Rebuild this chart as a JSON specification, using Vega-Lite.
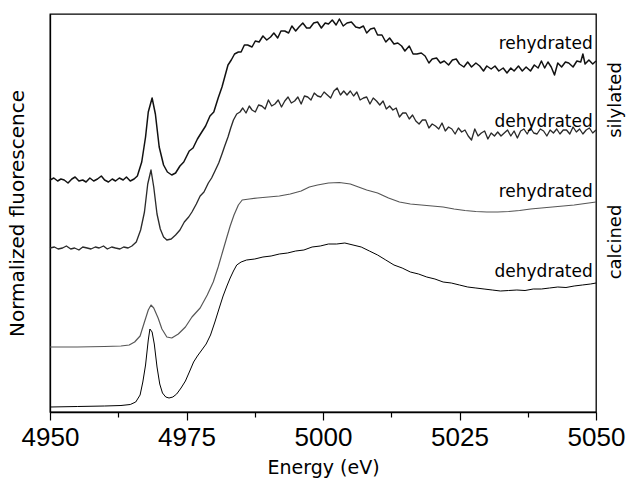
{
  "$schema": "https://vega.github.io/schema/vega-lite/v6.json",
  "width": 546,
  "height": 398,
  "autosize": {"type": "none"},
  "padding": {"left": 50, "top": 14, "right": 35, "bottom": 71},
  "background": "white",
  "config": {
    "view": {"stroke": "black", "strokeWidth": 1.3},
    "axis": {"domainColor": "black", "tickColor": "black", "labelColor": "black", "titleColor": "black", "grid": false}
  },
  "datasets": {
    "curves": [
      {"series": "A", "e": 4950, "v": 232}, {"series": "A", "e": 4950.7, "v": 234}, {"series": "A", "e": 4951.4, "v": 231}, {"series": "A", "e": 4952, "v": 233}, {"series": "A", "e": 4952.6, "v": 232}, {"series": "A", "e": 4953.3, "v": 229}, {"series": "A", "e": 4954, "v": 233}, {"series": "A", "e": 4954.6, "v": 235}, {"series": "A", "e": 4955.3, "v": 231}, {"series": "A", "e": 4956, "v": 232}, {"series": "A", "e": 4956.6, "v": 230}, {"series": "A", "e": 4957.3, "v": 234}, {"series": "A", "e": 4958, "v": 231}, {"series": "A", "e": 4958.7, "v": 233}, {"series": "A", "e": 4959.4, "v": 236}, {"series": "A", "e": 4960, "v": 232}, {"series": "A", "e": 4960.7, "v": 230}, {"series": "A", "e": 4961.4, "v": 233}, {"series": "A", "e": 4962, "v": 231}, {"series": "A", "e": 4962.7, "v": 234}, {"series": "A", "e": 4963.4, "v": 232}, {"series": "A", "e": 4964, "v": 235}, {"series": "A", "e": 4964.7, "v": 231}, {"series": "A", "e": 4965.4, "v": 233}, {"series": "A", "e": 4966, "v": 236}, {"series": "A", "e": 4966.8, "v": 250}, {"series": "A", "e": 4967.5, "v": 275}, {"series": "A", "e": 4968, "v": 300}, {"series": "A", "e": 4968.7, "v": 314}, {"series": "A", "e": 4969.3, "v": 298}, {"series": "A", "e": 4970, "v": 265}, {"series": "A", "e": 4970.8, "v": 247}, {"series": "A", "e": 4971.5, "v": 240}, {"series": "A", "e": 4972.3, "v": 237}, {"series": "A", "e": 4973, "v": 239}, {"series": "A", "e": 4973.8, "v": 246}, {"series": "A", "e": 4974.5, "v": 250}, {"series": "A", "e": 4975.5, "v": 261}, {"series": "A", "e": 4976.2, "v": 264}, {"series": "A", "e": 4977, "v": 273}, {"series": "A", "e": 4977.8, "v": 280}, {"series": "A", "e": 4978.5, "v": 286}, {"series": "A", "e": 4979.3, "v": 296}, {"series": "A", "e": 4980, "v": 300}, {"series": "A", "e": 4980.8, "v": 314}, {"series": "A", "e": 4981.5, "v": 325}, {"series": "A", "e": 4982, "v": 335}, {"series": "A", "e": 4982.6, "v": 347}, {"series": "A", "e": 4983.2, "v": 352}, {"series": "A", "e": 4983.8, "v": 358}, {"series": "A", "e": 4984.5, "v": 360}, {"series": "A", "e": 4985, "v": 360}, {"series": "A", "e": 4985.6, "v": 367}, {"series": "A", "e": 4986.2, "v": 367}, {"series": "A", "e": 4987, "v": 365}, {"series": "A", "e": 4987.6, "v": 371}, {"series": "A", "e": 4988.3, "v": 370}, {"series": "A", "e": 4989, "v": 376}, {"series": "A", "e": 4989.7, "v": 372}, {"series": "A", "e": 4990.4, "v": 375}, {"series": "A", "e": 4991, "v": 379}, {"series": "A", "e": 4991.7, "v": 374}, {"series": "A", "e": 4992.3, "v": 381}, {"series": "A", "e": 4993, "v": 381}, {"series": "A", "e": 4993.7, "v": 379}, {"series": "A", "e": 4994.3, "v": 386}, {"series": "A", "e": 4995, "v": 381}, {"series": "A", "e": 4995.6, "v": 385}, {"series": "A", "e": 4996.3, "v": 389}, {"series": "A", "e": 4997, "v": 384}, {"series": "A", "e": 4997.6, "v": 384}, {"series": "A", "e": 4998.3, "v": 389}, {"series": "A", "e": 4999, "v": 390}, {"series": "A", "e": 4999.7, "v": 384}, {"series": "A", "e": 5000.4, "v": 389}, {"series": "A", "e": 5001, "v": 388}, {"series": "A", "e": 5001.7, "v": 392}, {"series": "A", "e": 5002.4, "v": 387}, {"series": "A", "e": 5003, "v": 393}, {"series": "A", "e": 5003.7, "v": 386}, {"series": "A", "e": 5004.4, "v": 389}, {"series": "A", "e": 5005.2, "v": 390}, {"series": "A", "e": 5006, "v": 385}, {"series": "A", "e": 5006.7, "v": 384}, {"series": "A", "e": 5007.4, "v": 386}, {"series": "A", "e": 5008, "v": 379}, {"series": "A", "e": 5008.7, "v": 383}, {"series": "A", "e": 5009.4, "v": 384}, {"series": "A", "e": 5010, "v": 377}, {"series": "A", "e": 5010.8, "v": 377}, {"series": "A", "e": 5011.5, "v": 370}, {"series": "A", "e": 5012.2, "v": 374}, {"series": "A", "e": 5013, "v": 368}, {"series": "A", "e": 5013.7, "v": 369}, {"series": "A", "e": 5014.4, "v": 366}, {"series": "A", "e": 5015, "v": 361}, {"series": "A", "e": 5015.8, "v": 366}, {"series": "A", "e": 5016.5, "v": 358}, {"series": "A", "e": 5017.2, "v": 358}, {"series": "A", "e": 5018, "v": 359}, {"series": "A", "e": 5018.7, "v": 356}, {"series": "A", "e": 5019.4, "v": 349}, {"series": "A", "e": 5020, "v": 353}, {"series": "A", "e": 5020.8, "v": 354}, {"series": "A", "e": 5021.5, "v": 349}, {"series": "A", "e": 5022.2, "v": 351}, {"series": "A", "e": 5023, "v": 347}, {"series": "A", "e": 5023.7, "v": 352}, {"series": "A", "e": 5024.4, "v": 353}, {"series": "A", "e": 5025, "v": 348}, {"series": "A", "e": 5025.8, "v": 345}, {"series": "A", "e": 5026.5, "v": 350}, {"series": "A", "e": 5027.2, "v": 345}, {"series": "A", "e": 5028, "v": 349}, {"series": "A", "e": 5028.7, "v": 346}, {"series": "A", "e": 5029.4, "v": 341}, {"series": "A", "e": 5030, "v": 346}, {"series": "A", "e": 5030.8, "v": 343}, {"series": "A", "e": 5031.5, "v": 346}, {"series": "A", "e": 5032.2, "v": 341}, {"series": "A", "e": 5033, "v": 344}, {"series": "A", "e": 5033.7, "v": 339}, {"series": "A", "e": 5034.4, "v": 344}, {"series": "A", "e": 5035, "v": 341}, {"series": "A", "e": 5035.8, "v": 346}, {"series": "A", "e": 5036.5, "v": 341}, {"series": "A", "e": 5037.2, "v": 345}, {"series": "A", "e": 5038, "v": 341}, {"series": "A", "e": 5038.7, "v": 347}, {"series": "A", "e": 5039.4, "v": 344}, {"series": "A", "e": 5040, "v": 351}, {"series": "A", "e": 5040.6, "v": 344}, {"series": "A", "e": 5041.2, "v": 350}, {"series": "A", "e": 5041.8, "v": 345}, {"series": "A", "e": 5042.4, "v": 337}, {"series": "A", "e": 5043, "v": 349}, {"series": "A", "e": 5043.7, "v": 345}, {"series": "A", "e": 5044.4, "v": 350}, {"series": "A", "e": 5045, "v": 349}, {"series": "A", "e": 5045.8, "v": 345}, {"series": "A", "e": 5046.5, "v": 351}, {"series": "A", "e": 5047.2, "v": 350}, {"series": "A", "e": 5047.6, "v": 358}, {"series": "A", "e": 5048, "v": 348}, {"series": "A", "e": 5048.7, "v": 352}, {"series": "A", "e": 5049.4, "v": 348}, {"series": "A", "e": 5050, "v": 351},

      {"series": "B", "e": 4950, "v": 164}, {"series": "B", "e": 4950.8, "v": 165}, {"series": "B", "e": 4951.5, "v": 163}, {"series": "B", "e": 4952.3, "v": 164}, {"series": "B", "e": 4953, "v": 166}, {"series": "B", "e": 4953.8, "v": 163}, {"series": "B", "e": 4954.5, "v": 164}, {"series": "B", "e": 4955.3, "v": 162}, {"series": "B", "e": 4956, "v": 165}, {"series": "B", "e": 4956.8, "v": 164}, {"series": "B", "e": 4957.5, "v": 163}, {"series": "B", "e": 4958.3, "v": 165}, {"series": "B", "e": 4959, "v": 164}, {"series": "B", "e": 4959.8, "v": 166}, {"series": "B", "e": 4960.5, "v": 163}, {"series": "B", "e": 4961.3, "v": 165}, {"series": "B", "e": 4962, "v": 164}, {"series": "B", "e": 4962.8, "v": 163}, {"series": "B", "e": 4963.5, "v": 165}, {"series": "B", "e": 4964.3, "v": 164}, {"series": "B", "e": 4965, "v": 166}, {"series": "B", "e": 4965.8, "v": 170}, {"series": "B", "e": 4966.6, "v": 182}, {"series": "B", "e": 4967.3, "v": 200}, {"series": "B", "e": 4967.9, "v": 228}, {"series": "B", "e": 4968.5, "v": 242}, {"series": "B", "e": 4969, "v": 225}, {"series": "B", "e": 4969.6, "v": 198}, {"series": "B", "e": 4970.2, "v": 183}, {"series": "B", "e": 4970.8, "v": 175}, {"series": "B", "e": 4971.4, "v": 172}, {"series": "B", "e": 4972.2, "v": 173}, {"series": "B", "e": 4973, "v": 177}, {"series": "B", "e": 4973.8, "v": 182}, {"series": "B", "e": 4974.6, "v": 190}, {"series": "B", "e": 4975.4, "v": 195}, {"series": "B", "e": 4976, "v": 200}, {"series": "B", "e": 4976.8, "v": 208}, {"series": "B", "e": 4977.5, "v": 216}, {"series": "B", "e": 4978.2, "v": 220}, {"series": "B", "e": 4979, "v": 229}, {"series": "B", "e": 4979.6, "v": 234}, {"series": "B", "e": 4980.3, "v": 242}, {"series": "B", "e": 4980.9, "v": 249}, {"series": "B", "e": 4981.5, "v": 258}, {"series": "B", "e": 4982, "v": 266}, {"series": "B", "e": 4982.6, "v": 275}, {"series": "B", "e": 4983.1, "v": 284}, {"series": "B", "e": 4983.6, "v": 292}, {"series": "B", "e": 4984.2, "v": 298}, {"series": "B", "e": 4984.8, "v": 300}, {"series": "B", "e": 4985.3, "v": 304}, {"series": "B", "e": 4985.9, "v": 299}, {"series": "B", "e": 4986.5, "v": 306}, {"series": "B", "e": 4987, "v": 302}, {"series": "B", "e": 4987.6, "v": 300}, {"series": "B", "e": 4988.2, "v": 307}, {"series": "B", "e": 4988.8, "v": 306}, {"series": "B", "e": 4989.4, "v": 303}, {"series": "B", "e": 4990, "v": 312}, {"series": "B", "e": 4990.6, "v": 306}, {"series": "B", "e": 4991.2, "v": 308}, {"series": "B", "e": 4991.8, "v": 312}, {"series": "B", "e": 4992.4, "v": 305}, {"series": "B", "e": 4993, "v": 311}, {"series": "B", "e": 4993.6, "v": 315}, {"series": "B", "e": 4994.2, "v": 309}, {"series": "B", "e": 4994.8, "v": 311}, {"series": "B", "e": 4995.4, "v": 315}, {"series": "B", "e": 4996, "v": 308}, {"series": "B", "e": 4996.6, "v": 316}, {"series": "B", "e": 4997.2, "v": 315}, {"series": "B", "e": 4997.8, "v": 312}, {"series": "B", "e": 4998.4, "v": 319}, {"series": "B", "e": 4999, "v": 316}, {"series": "B", "e": 4999.6, "v": 315}, {"series": "B", "e": 5000.2, "v": 320}, {"series": "B", "e": 5000.8, "v": 317}, {"series": "B", "e": 5001.4, "v": 314}, {"series": "B", "e": 5002, "v": 321}, {"series": "B", "e": 5002.6, "v": 324}, {"series": "B", "e": 5003.2, "v": 317}, {"series": "B", "e": 5003.8, "v": 321}, {"series": "B", "e": 5004.4, "v": 317}, {"series": "B", "e": 5005, "v": 321}, {"series": "B", "e": 5005.6, "v": 316}, {"series": "B", "e": 5006.2, "v": 320}, {"series": "B", "e": 5006.8, "v": 312}, {"series": "B", "e": 5007.4, "v": 314}, {"series": "B", "e": 5008, "v": 315}, {"series": "B", "e": 5008.6, "v": 308}, {"series": "B", "e": 5009.2, "v": 314}, {"series": "B", "e": 5009.8, "v": 311}, {"series": "B", "e": 5010.4, "v": 307}, {"series": "B", "e": 5011, "v": 311}, {"series": "B", "e": 5011.6, "v": 303}, {"series": "B", "e": 5012.2, "v": 306}, {"series": "B", "e": 5012.8, "v": 302}, {"series": "B", "e": 5013.4, "v": 304}, {"series": "B", "e": 5014, "v": 295}, {"series": "B", "e": 5014.6, "v": 299}, {"series": "B", "e": 5015.2, "v": 299}, {"series": "B", "e": 5015.8, "v": 293}, {"series": "B", "e": 5016.4, "v": 297}, {"series": "B", "e": 5017, "v": 291}, {"series": "B", "e": 5017.6, "v": 288}, {"series": "B", "e": 5018.2, "v": 292}, {"series": "B", "e": 5018.8, "v": 292}, {"series": "B", "e": 5019.4, "v": 284}, {"series": "B", "e": 5020, "v": 288}, {"series": "B", "e": 5020.6, "v": 286}, {"series": "B", "e": 5021.2, "v": 283}, {"series": "B", "e": 5021.8, "v": 289}, {"series": "B", "e": 5022.4, "v": 281}, {"series": "B", "e": 5023, "v": 285}, {"series": "B", "e": 5023.6, "v": 283}, {"series": "B", "e": 5024.2, "v": 278}, {"series": "B", "e": 5024.8, "v": 284}, {"series": "B", "e": 5025.4, "v": 280}, {"series": "B", "e": 5026, "v": 282}, {"series": "B", "e": 5026.6, "v": 276}, {"series": "B", "e": 5027.2, "v": 272}, {"series": "B", "e": 5027.8, "v": 283}, {"series": "B", "e": 5028.4, "v": 276}, {"series": "B", "e": 5029, "v": 279}, {"series": "B", "e": 5029.6, "v": 281}, {"series": "B", "e": 5030.2, "v": 273}, {"series": "B", "e": 5030.8, "v": 279}, {"series": "B", "e": 5031.4, "v": 276}, {"series": "B", "e": 5032, "v": 280}, {"series": "B", "e": 5032.6, "v": 276}, {"series": "B", "e": 5033.2, "v": 279}, {"series": "B", "e": 5033.8, "v": 282}, {"series": "B", "e": 5034.4, "v": 276}, {"series": "B", "e": 5035, "v": 281}, {"series": "B", "e": 5035.6, "v": 274}, {"series": "B", "e": 5036.2, "v": 281}, {"series": "B", "e": 5036.8, "v": 283}, {"series": "B", "e": 5037.4, "v": 278}, {"series": "B", "e": 5038, "v": 284}, {"series": "B", "e": 5038.6, "v": 279}, {"series": "B", "e": 5039.2, "v": 278}, {"series": "B", "e": 5039.8, "v": 283}, {"series": "B", "e": 5040.4, "v": 281}, {"series": "B", "e": 5041, "v": 276}, {"series": "B", "e": 5041.6, "v": 282}, {"series": "B", "e": 5042.2, "v": 279}, {"series": "B", "e": 5042.8, "v": 283}, {"series": "B", "e": 5043.4, "v": 278}, {"series": "B", "e": 5044, "v": 282}, {"series": "B", "e": 5044.6, "v": 282}, {"series": "B", "e": 5045.2, "v": 278}, {"series": "B", "e": 5045.8, "v": 285}, {"series": "B", "e": 5046.4, "v": 280}, {"series": "B", "e": 5047, "v": 283}, {"series": "B", "e": 5047.6, "v": 278}, {"series": "B", "e": 5048.2, "v": 282}, {"series": "B", "e": 5048.8, "v": 284}, {"series": "B", "e": 5049.4, "v": 279}, {"series": "B", "e": 5050, "v": 282},

      {"series": "C", "e": 4950, "v": 65}, {"series": "C", "e": 4955, "v": 65}, {"series": "C", "e": 4960, "v": 65.5}, {"series": "C", "e": 4963, "v": 66}, {"series": "C", "e": 4964.5, "v": 67}, {"series": "C", "e": 4965.5, "v": 70}, {"series": "C", "e": 4966.5, "v": 76}, {"series": "C", "e": 4967.3, "v": 90}, {"series": "C", "e": 4968, "v": 102}, {"series": "C", "e": 4968.5, "v": 107}, {"series": "C", "e": 4969, "v": 104}, {"series": "C", "e": 4969.8, "v": 94}, {"series": "C", "e": 4970.5, "v": 83}, {"series": "C", "e": 4971.4, "v": 75}, {"series": "C", "e": 4972.3, "v": 74}, {"series": "C", "e": 4973.5, "v": 78}, {"series": "C", "e": 4974.8, "v": 85}, {"series": "C", "e": 4976, "v": 95}, {"series": "C", "e": 4977.5, "v": 104}, {"series": "C", "e": 4978.8, "v": 117}, {"series": "C", "e": 4979.9, "v": 130}, {"series": "C", "e": 4980.8, "v": 145}, {"series": "C", "e": 4981.6, "v": 160}, {"series": "C", "e": 4982.4, "v": 175}, {"series": "C", "e": 4983, "v": 186}, {"series": "C", "e": 4983.7, "v": 197}, {"series": "C", "e": 4984.5, "v": 207}, {"series": "C", "e": 4985.2, "v": 212}, {"series": "C", "e": 4986.5, "v": 213}, {"series": "C", "e": 4988, "v": 214}, {"series": "C", "e": 4990, "v": 215}, {"series": "C", "e": 4992, "v": 216}, {"series": "C", "e": 4994, "v": 218}, {"series": "C", "e": 4996, "v": 221}, {"series": "C", "e": 4997.5, "v": 225}, {"series": "C", "e": 4999, "v": 227}, {"series": "C", "e": 5001, "v": 229}, {"series": "C", "e": 5003, "v": 229.5}, {"series": "C", "e": 5005, "v": 228}, {"series": "C", "e": 5006.5, "v": 225}, {"series": "C", "e": 5008, "v": 222}, {"series": "C", "e": 5010, "v": 219}, {"series": "C", "e": 5012, "v": 214}, {"series": "C", "e": 5014, "v": 210}, {"series": "C", "e": 5016, "v": 208}, {"series": "C", "e": 5018, "v": 207}, {"series": "C", "e": 5020, "v": 206}, {"series": "C", "e": 5022, "v": 205}, {"series": "C", "e": 5024, "v": 203}, {"series": "C", "e": 5026, "v": 201.5}, {"series": "C", "e": 5028, "v": 200.5}, {"series": "C", "e": 5030, "v": 200}, {"series": "C", "e": 5032, "v": 200}, {"series": "C", "e": 5034, "v": 200.5}, {"series": "C", "e": 5036, "v": 201.5}, {"series": "C", "e": 5038, "v": 203}, {"series": "C", "e": 5040, "v": 204}, {"series": "C", "e": 5042, "v": 205}, {"series": "C", "e": 5044, "v": 206}, {"series": "C", "e": 5046, "v": 207}, {"series": "C", "e": 5048, "v": 208.5}, {"series": "C", "e": 5050, "v": 210},

      {"series": "D", "e": 4950, "v": 5}, {"series": "D", "e": 4955, "v": 5.5}, {"series": "D", "e": 4960, "v": 6}, {"series": "D", "e": 4963, "v": 6.5}, {"series": "D", "e": 4964.7, "v": 7.5}, {"series": "D", "e": 4965.7, "v": 10}, {"series": "D", "e": 4966.5, "v": 17}, {"series": "D", "e": 4967, "v": 30}, {"series": "D", "e": 4967.5, "v": 47}, {"series": "D", "e": 4968, "v": 72}, {"series": "D", "e": 4968.3, "v": 83}, {"series": "D", "e": 4968.7, "v": 80}, {"series": "D", "e": 4969.1, "v": 68}, {"series": "D", "e": 4969.6, "v": 45}, {"series": "D", "e": 4970.1, "v": 28}, {"series": "D", "e": 4970.6, "v": 19}, {"series": "D", "e": 4971.2, "v": 15}, {"series": "D", "e": 4971.8, "v": 14}, {"series": "D", "e": 4972.5, "v": 15}, {"series": "D", "e": 4973.2, "v": 18}, {"series": "D", "e": 4974, "v": 24}, {"series": "D", "e": 4974.8, "v": 31}, {"series": "D", "e": 4975.6, "v": 41}, {"series": "D", "e": 4976.3, "v": 50}, {"series": "D", "e": 4977, "v": 56}, {"series": "D", "e": 4977.8, "v": 62}, {"series": "D", "e": 4978.6, "v": 68}, {"series": "D", "e": 4979.4, "v": 77}, {"series": "D", "e": 4980.2, "v": 90}, {"series": "D", "e": 4981, "v": 104}, {"series": "D", "e": 4981.7, "v": 116}, {"series": "D", "e": 4982.4, "v": 126}, {"series": "D", "e": 4983, "v": 134}, {"series": "D", "e": 4983.6, "v": 141}, {"series": "D", "e": 4984.2, "v": 147}, {"series": "D", "e": 4985, "v": 150}, {"series": "D", "e": 4986, "v": 152}, {"series": "D", "e": 4987.5, "v": 153}, {"series": "D", "e": 4989, "v": 155}, {"series": "D", "e": 4990.5, "v": 156}, {"series": "D", "e": 4992, "v": 158}, {"series": "D", "e": 4993.5, "v": 159}, {"series": "D", "e": 4995, "v": 161}, {"series": "D", "e": 4996.5, "v": 162}, {"series": "D", "e": 4998, "v": 165}, {"series": "D", "e": 4999.5, "v": 166}, {"series": "D", "e": 5001, "v": 168}, {"series": "D", "e": 5002.5, "v": 168}, {"series": "D", "e": 5004, "v": 169}, {"series": "D", "e": 5005.5, "v": 167}, {"series": "D", "e": 5007, "v": 165}, {"series": "D", "e": 5008.5, "v": 161}, {"series": "D", "e": 5010, "v": 157}, {"series": "D", "e": 5011.5, "v": 152}, {"series": "D", "e": 5013, "v": 147}, {"series": "D", "e": 5014.5, "v": 144}, {"series": "D", "e": 5016, "v": 140}, {"series": "D", "e": 5017.5, "v": 138}, {"series": "D", "e": 5019, "v": 135}, {"series": "D", "e": 5020.5, "v": 133}, {"series": "D", "e": 5022, "v": 130}, {"series": "D", "e": 5023.5, "v": 129}, {"series": "D", "e": 5025, "v": 127}, {"series": "D", "e": 5026.5, "v": 125}, {"series": "D", "e": 5028, "v": 124}, {"series": "D", "e": 5029.5, "v": 123}, {"series": "D", "e": 5031, "v": 122}, {"series": "D", "e": 5032.5, "v": 121}, {"series": "D", "e": 5034, "v": 121.5}, {"series": "D", "e": 5035.5, "v": 122}, {"series": "D", "e": 5037, "v": 121.5}, {"series": "D", "e": 5038.5, "v": 123}, {"series": "D", "e": 5040, "v": 123}, {"series": "D", "e": 5041.5, "v": 124}, {"series": "D", "e": 5043, "v": 125}, {"series": "D", "e": 5044.5, "v": 124.5}, {"series": "D", "e": 5046, "v": 126}, {"series": "D", "e": 5047.5, "v": 127}, {"series": "D", "e": 5049, "v": 128}, {"series": "D", "e": 5050, "v": 129}
    ],
    "labels": [
      {"e": 5049.4, "v": 368, "text": "rehydrated"},
      {"e": 5049.4, "v": 290, "text": "dehydrated"},
      {"e": 5049.4, "v": 220, "text": "rehydrated"},
      {"e": 5049.4, "v": 140, "text": "dehydrated"}
    ],
    "groups": [
      {"e": 5053.6, "v": 312, "text": "silylated"},
      {"e": 5053.6, "v": 170, "text": "calcined"}
    ]
  },
  "layer": [
    {
      "data": {"name": "curves"},
      "mark": {"type": "line", "interpolate": "linear", "strokeJoin": "round"},
      "encoding": {
        "x": {
          "field": "e", "type": "quantitative",
          "scale": {"domain": [4950, 5050], "nice": false, "zero": false},
          "axis": {
            "values": [4950, 4962.5, 4975, 4987.5, 5000, 5012.5, 5025, 5037.5, 5050],
            "format": "d",
            "labelExpr": "datum.value % 25 === 0 ? datum.label : ''",
            "tickSize": {"condition": {"test": "datum.value % 25 === 0", "value": 8}, "value": 5},
            "tickWidth": 1.2,
            "domainWidth": 1.3,
            "labelFont": "Liberation Sans",
            "labelFontSize": 26,
            "labelPadding": 4,
            "labelFlush": false,
            "labelOverlap": false,
            "title": "Energy (eV)",
            "titleFont": "DejaVu Sans",
            "titleFontSize": 19,
            "titleFontWeight": "normal",
            "titlePadding": 8
          }
        },
        "y": {
          "field": "v", "type": "quantitative",
          "scale": {"domain": [0, 398], "nice": false, "zero": false},
          "axis": {
            "ticks": false, "labels": false, "domainWidth": 1.3,
            "title": "Normalized fluorescence",
            "titleFont": "DejaVu Sans",
            "titleFontSize": 20,
            "titleFontWeight": "normal",
            "titlePadding": 23
          }
        },
        "detail": {"field": "series"},
        "color": {
          "field": "series", "type": "nominal", "legend": null,
          "scale": {"domain": ["A", "B", "C", "D"], "range": ["#111111", "#2a2a2a", "#555555", "#000000"]}
        },
        "strokeWidth": {
          "field": "series", "type": "nominal", "legend": null,
          "scale": {"domain": ["A", "B", "C", "D"], "range": [1.5, 1.0, 0.9, 1.7]}
        }
      }
    },
    {
      "data": {"name": "labels"},
      "mark": {"type": "text", "align": "right", "baseline": "middle", "font": "DejaVu Sans", "fontSize": 17, "color": "black"},
      "encoding": {
        "x": {"field": "e", "type": "quantitative"},
        "y": {"field": "v", "type": "quantitative"},
        "text": {"field": "text"}
      }
    },
    {
      "data": {"name": "groups"},
      "mark": {"type": "text", "align": "center", "baseline": "middle", "angle": 270, "font": "DejaVu Sans", "fontSize": 18, "color": "black"},
      "encoding": {
        "x": {"field": "e", "type": "quantitative"},
        "y": {"field": "v", "type": "quantitative"},
        "text": {"field": "text"}
      }
    }
  ]
}
